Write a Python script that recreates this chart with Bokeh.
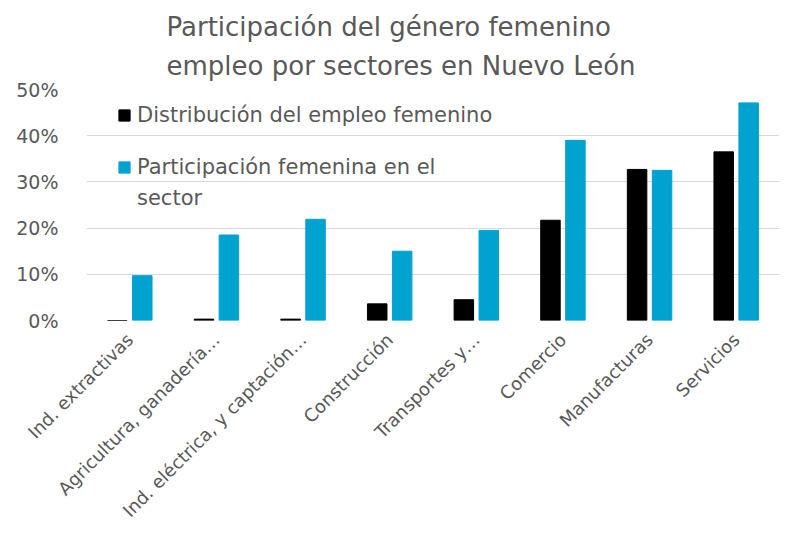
import math
from bokeh.plotting import figure
from bokeh.models import (ColumnDataSource, FactorRange, Range1d, FixedTicker,
                          NumeralTickFormatter, Legend, LegendItem, Title)
from bokeh.transform import dodge
from bokeh.embed import file_html
from bokeh.resources import INLINE

categories = ["Ind. extractivas", "Agricultura, ganadería…", "Ind. eléctrica, y captación…",
              "Construcción", "Transportes y…", "Comercio", "Manufacturas", "Servicios"]
distribucion = [0.0, 0.003, 0.003, 0.036, 0.045, 0.217, 0.327, 0.365]
participacion = [0.097, 0.185, 0.219, 0.150, 0.195, 0.390, 0.325, 0.471]
y_ticks = [0, 0.1, 0.2, 0.3, 0.4, 0.5]
title_lines = ["Participación del género femenino", "empleo por sectores en Nuevo León"]
legend_labels = ["Distribución del empleo femenino", "Participación femenina en el", "sector"]

FONT = "DejaVu Sans"
GREY = "#595959"

src = ColumnDataSource(dict(cat=categories, d=distribucion, p=participacion))

p = figure(width=779, height=536, x_range=FactorRange(*categories),
           y_range=Range1d(0, 0.5), output_backend="svg", toolbar_location=None,
           min_border_left=86, min_border_right=0, min_border_bottom=216, min_border_top=89)

r1 = p.vbar(x=dodge("cat", -0.144, range=p.x_range), top="d", width=0.225, source=src,
            fill_color="#000000", line_color="#000000")
r2 = p.vbar(x=dodge("cat", 0.144, range=p.x_range), top="p", width=0.225, source=src,
            fill_color="#00A3D0", line_color="#00A3D0")
dummy = p.vbar(x=[], top=[], width=0.22, fill_alpha=0, line_alpha=0)

leg_common = dict(background_fill_alpha=0, border_line_alpha=0,
                  label_text_font=FONT, label_text_font_size="21px", label_text_color=GREY,
                  glyph_width=14, glyph_height=14, label_standoff=6, padding=0, margin=0)
legend1 = Legend(items=[LegendItem(label=legend_labels[0], renderers=[r1])],
                 location=(31, 193), **leg_common)
legend2 = Legend(items=[LegendItem(label=legend_labels[1], renderers=[r2]),
                        LegendItem(label=legend_labels[2], renderers=[dummy])],
                 location=(31, 110), spacing=7, **leg_common)
p.add_layout(legend1, "center")
p.add_layout(legend2, "center")

p.title = None
p.add_layout(Title(text="\n".join(title_lines), align="left", offset=80, standoff=18,
                   text_font=FONT, text_font_size="26px", text_color=GREY,
                   text_line_height=1.3, text_font_style="normal"), "above")

p.yaxis.ticker = FixedTicker(ticks=y_ticks)
p.yaxis.formatter = NumeralTickFormatter(format="0%")
p.yaxis.axis_line_color = None
p.yaxis.major_tick_line_color = None
p.yaxis.minor_tick_line_color = None
p.yaxis.major_label_text_font = FONT
p.yaxis.major_label_text_font_size = "19px"
p.yaxis.major_label_text_color = GREY
p.yaxis.major_label_standoff = 22

p.xaxis.axis_line_color = None
p.xaxis.major_tick_line_color = None
p.xaxis.major_label_orientation = math.pi / 4
p.xaxis.major_label_text_font = FONT
p.xaxis.major_label_text_font_size = "18px"
p.xaxis.major_label_text_color = GREY
p.xaxis.major_label_standoff = 10

p.xgrid.grid_line_color = None
p.ygrid.grid_line_color = "#D9D9D9"
p.ygrid.grid_line_width = 1
p.outline_line_color = None
p.x_range.range_padding = 0
p.x_range.group_padding = 0

open("out.html", "w").write(file_html(p, INLINE))
